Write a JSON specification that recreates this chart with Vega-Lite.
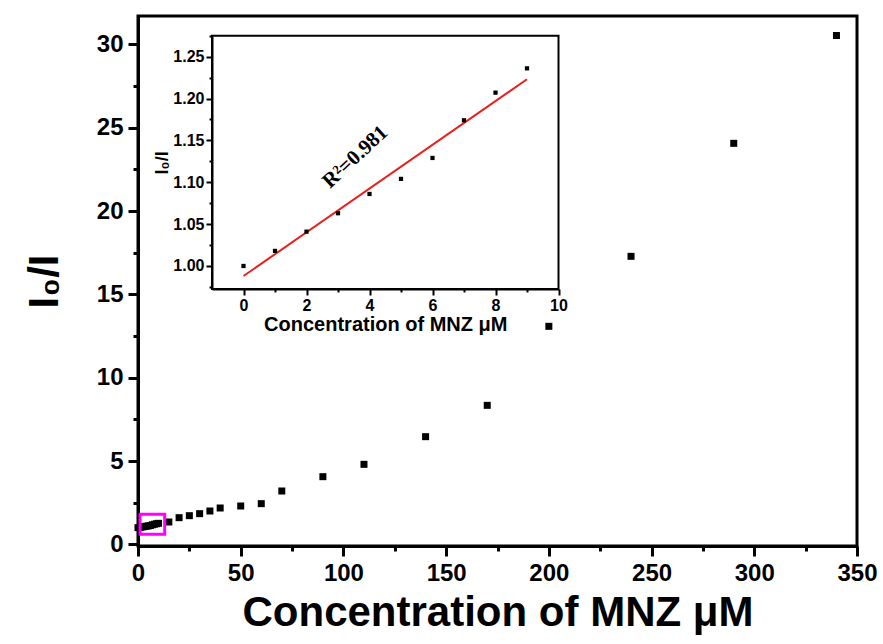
{
  "$schema": "https://vega.github.io/schema/vega-lite/v6.json",
  "width": 719,
  "height": 530,
  "autosize": {"type": "none"},
  "padding": {"left": 138, "top": 16, "right": 26, "bottom": 98},
  "background": "white",
  "config": {
    "view": {"stroke": "black", "strokeWidth": 3},
    "font": "Liberation Sans"
  },
  "datasets": {
    "main": [
      {"x": 0, "y": 1.0}, {"x": 1, "y": 1.018}, {"x": 2, "y": 1.041}, {"x": 3, "y": 1.063},
      {"x": 4, "y": 1.086}, {"x": 5, "y": 1.104}, {"x": 6, "y": 1.129}, {"x": 7, "y": 1.174},
      {"x": 8, "y": 1.207}, {"x": 9, "y": 1.236}, {"x": 10, "y": 1.26},
      {"x": 15, "y": 1.34}, {"x": 20, "y": 1.6}, {"x": 25, "y": 1.72}, {"x": 30, "y": 1.84},
      {"x": 35, "y": 2.0}, {"x": 40, "y": 2.18}, {"x": 50, "y": 2.3}, {"x": 60, "y": 2.44},
      {"x": 70, "y": 3.2}, {"x": 90, "y": 4.06}, {"x": 110, "y": 4.8}, {"x": 140, "y": 6.46},
      {"x": 170, "y": 8.34}, {"x": 200, "y": 13.08}, {"x": 240, "y": 17.28},
      {"x": 290, "y": 24.06}, {"x": 340, "y": 30.53}
    ],
    "box": [{"x": 1, "x2": 13, "y": 0.6, "y2": 1.8}],
    "inset": [
      {"x": 0, "y": 1.0}, {"x": 1, "y": 1.018}, {"x": 2, "y": 1.041}, {"x": 3, "y": 1.063},
      {"x": 4, "y": 1.086}, {"x": 5, "y": 1.104}, {"x": 6, "y": 1.129}, {"x": 7, "y": 1.174},
      {"x": 8, "y": 1.207}, {"x": 9, "y": 1.236}
    ],
    "fit": [{"x": 0, "y": 0.988}, {"x": 9, "y": 1.223}],
    "frame": [{"x": -1, "x2": 10, "y": 0.9725, "y2": 1.275}],
    "label": [{"x": 3.55, "y": 1.13, "text": "R²=0.981"}]
  },
  "layer": [
    {
      "encoding": {
        "x": {
          "field": "x", "type": "quantitative",
          "scale": {"domain": [0, 350], "nice": false, "zero": false},
          "axis": {
            "title": "Concentration of MNZ μM",
            "values": [0, 25, 50, 75, 100, 125, 150, 175, 200, 225, 250, 275, 300, 325, 350],
            "labelExpr": "datum.value % 50 === 0 ? datum.label : ''",
            "grid": false,
            "domainColor": "black", "domainWidth": 3,
            "tickColor": "black", "tickWidth": 3,
            "tickSize": {"condition": {"test": "datum.value % 50 !== 0", "value": 5}, "value": 10},
            "labelFont": "Liberation Sans", "labelFontSize": 24, "labelFontWeight": "bold",
            "labelColor": "black", "labelPadding": 5, "labelFlush": false,
            "titleFont": "Liberation Sans", "titleFontSize": 42, "titleFontWeight": "bold",
            "titleColor": "black", "titlePadding": 7
          }
        },
        "y": {
          "field": "y", "type": "quantitative",
          "scale": {"domain": [-0.1, 31.7], "nice": false, "zero": false},
          "axis": {
            "title": "I₀/I",
            "values": [0, 2.5, 5, 7.5, 10, 12.5, 15, 17.5, 20, 22.5, 25, 27.5, 30],
            "labelExpr": "datum.value % 5 === 0 ? datum.label : ''",
            "grid": false,
            "domainColor": "black", "domainWidth": 3,
            "tickColor": "black", "tickWidth": 3,
            "tickSize": {"condition": {"test": "datum.value % 5 !== 0", "value": 5}, "value": 10},
            "labelFont": "Liberation Sans", "labelFontSize": 24, "labelFontWeight": "bold",
            "labelColor": "black", "labelPadding": 5, "labelFlush": false,
            "titleFont": "Liberation Sans", "titleFontSize": 42, "titleFontWeight": "bold",
            "titleColor": "black", "titlePadding": 30
          }
        }
      },
      "layer": [
        {
          "data": {"name": "main"},
          "mark": {"type": "square", "size": 49, "color": "black", "opacity": 1}
        },
        {
          "data": {"name": "box"},
          "mark": {"type": "rect", "fillOpacity": 0, "stroke": "#ff00ff", "strokeWidth": 3},
          "encoding": {
            "x2": {"field": "x2"},
            "y2": {"field": "y2"}
          }
        }
      ]
    },
    {
      "encoding": {
        "x": {
          "field": "x", "type": "quantitative",
          "scale": {"domain": [-1, 10], "range": [74, 420.5], "nice": false, "zero": false},
          "axis": {
            "orient": "bottom", "offset": -257,
            "title": "Concentration of MNZ μM",
            "values": [0, 1, 2, 3, 4, 5, 6, 7, 8, 9, 10],
            "labelExpr": "datum.value % 2 === 0 ? datum.label : ''",
            "grid": false,
            "domainColor": "black", "domainWidth": 2,
            "tickColor": "black", "tickWidth": 2,
            "tickSize": {"condition": {"test": "datum.value % 2 !== 0", "value": 3}, "value": 6},
            "labelFont": "Liberation Sans", "labelFontSize": 16, "labelFontWeight": "bold",
            "labelColor": "black", "labelPadding": 2, "labelFlush": false,
            "titleFont": "Liberation Sans", "titleFontSize": 20, "titleFontWeight": "bold",
            "titleColor": "black", "titlePadding": 1
          }
        },
        "y": {
          "field": "y", "type": "quantitative",
          "scale": {"domain": [0.9725, 1.275], "range": [273, 19.7], "nice": false, "zero": false},
          "axis": {
            "orient": "left", "offset": -74,
            "title": "I₀/I",
            "values": [0.975, 1.0, 1.025, 1.05, 1.075, 1.1, 1.125, 1.15, 1.175, 1.2, 1.225, 1.25, 1.275],
            "format": ".2f",
            "labelExpr": "round(datum.value * 1000) % 50 === 0 ? datum.label : ''",
            "grid": false,
            "domainColor": "black", "domainWidth": 2,
            "tickColor": "black", "tickWidth": 2,
            "tickSize": {"condition": {"test": "round(datum.value * 1000) % 50 !== 0", "value": 3}, "value": 6},
            "labelFont": "Liberation Sans", "labelFontSize": 16, "labelFontWeight": "bold",
            "labelColor": "black", "labelPadding": 2, "labelFlush": false,
            "titleFont": "Liberation Sans", "titleFontSize": 18, "titleFontWeight": "bold",
            "titleColor": "black", "titlePadding": 1
          }
        }
      },
      "layer": [
        {
          "data": {"name": "frame"},
          "mark": {"type": "rect", "fillOpacity": 0, "stroke": "black", "strokeWidth": 2},
          "encoding": {
            "x2": {"field": "x2"},
            "y2": {"field": "y2"}
          }
        },
        {
          "data": {"name": "fit"},
          "mark": {"type": "line", "color": "#e8201c", "strokeWidth": 2}
        },
        {
          "data": {"name": "inset"},
          "mark": {"type": "square", "size": 18, "color": "black", "opacity": 1}
        },
        {
          "data": {"name": "label"},
          "mark": {"type": "text", "font": "Liberation Serif", "fontWeight": "bold", "fontSize": 21, "angle": 317, "color": "black", "align": "center", "baseline": "middle"},
          "encoding": {"text": {"field": "text"}}
        }
      ]
    }
  ],
  "resolve": {
    "scale": {"x": "independent", "y": "independent"},
    "axis": {"x": "independent", "y": "independent"}
  }
}
